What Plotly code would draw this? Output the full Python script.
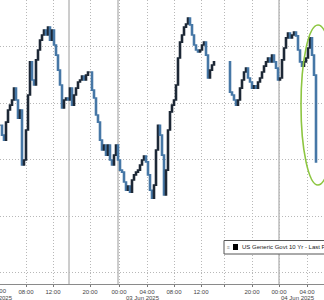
import plotly.graph_objects as go

# ---------------- data ----------------
# closes of 2-pixel bars, session 1 (02 Jun -> 03 Jun afternoon)
close_seg1 = [
    4.4323, 4.4288, 4.4270, 4.4334, 4.4377, 4.4394, 4.4412, 4.4454, 4.4412, 4.4348,
    4.4377, 4.4182, 4.4200, 4.4306, 4.4430, 4.4547, 4.4483, 4.4465, 4.4554, 4.4589,
    4.4624, 4.4642, 4.4660, 4.4642, 4.4670, 4.4624, 4.4660, 4.4607, 4.4571, 4.4518,
    4.4465, 4.4384, 4.4412, 4.4419, 4.4412, 4.4454, 4.4394, 4.4430, 4.4454, 4.4476,
    4.4483, 4.4497, 4.4483, 4.4500, 4.4511, 4.4511, 4.4447, 4.4419, 4.4359, 4.4334,
    4.4270, 4.4235, 4.4253, 4.4217, 4.4253, 4.4200, 4.4182, 4.4217, 4.4253, 4.4200,
    4.4164, 4.4157, 4.4122, 4.4093, 4.4108, 4.4086, 4.4129, 4.4147, 4.4157, 4.4164,
    4.4182, 4.4200, 4.4214, 4.4193, 4.4147, 4.4093, 4.4065, 4.4111, 4.4235, 4.4323,
    4.4288, 4.4217, 4.4076, 4.4164, 4.4306, 4.4370, 4.4394, 4.4412, 4.4465, 4.4561,
    4.4617, 4.4642, 4.4670, 4.4681, 4.4702, 4.4678, 4.4642, 4.4607, 4.4589, 4.4582,
    4.4589, 4.4607, 4.4617, 4.4571, 4.4490, 4.4518, 4.4536, 4.4547,
]
# session 2 (03 Jun evening -> 04 Jun morning)
close_seg2 = [
    4.4440, 4.4430, 4.4412, 4.4394, 4.4412, 4.4454, 4.4483, 4.4511, 4.4525, 4.4490,
    4.4476, 4.4454, 4.4462, 4.4454, 4.4476, 4.4490, 4.4511, 4.4532, 4.4547, 4.4561,
    4.4547, 4.4571, 4.4547, 4.4525, 4.4483, 4.4490, 4.4554, 4.4596, 4.4632, 4.4649,
    4.4632, 4.4642, 4.4653, 4.4639, 4.4589, 4.4547, 4.4532, 4.4547, 4.4561, 4.4596,
    4.4632, 4.4571, 4.4500, 4.4193,
]
bar_seg1 = list(range(0, 108))
bar_seg2 = list(range(115, 159))

tick_bars = [13, 26.5, 45, 59.5, 73.5, 87, 100.5, 112, 126, 139.5, 153.5]
tick_text = ["08:00", "12:00", "20:00", "00:00", "04:00", "08:00", "12:00", "",
             "20:00", "00:00", "04:00"]
session_breaks = [34.5, 59, 139.5]
series_name = "US Generic Govt 10 Yr - Last Price"

# ---------------- build ----------------
bars = bar_seg1 + bar_seg2
close = close_seg1 + close_seg2
open_ = [close[0]] + close[:-1]
high = [max(o, c) for o, c in zip(open_, close)]
low = [min(o, c) for o, c in zip(open_, close)]

W, H, B = 324, 300, 16
PH = H - B

fig = go.Figure()
fig.add_trace(go.Candlestick(
    x=bars, open=open_, high=high, low=low, close=close,
    increasing=dict(line=dict(color="#1d2836", width=1.6), fillcolor="#4f6780"),
    decreasing=dict(line=dict(color="#4677a6", width=1.6), fillcolor="#8fb4d4"),
    whiskerwidth=0, showlegend=False, hoverinfo="skip",
))

shapes = []
for b in session_breaks:
    shapes.append(dict(type="line", xref="x", yref="paper", x0=b, x1=b, y0=0, y1=1,
                       line=dict(color="#9a9a9a", width=1), layer="below"))
# highlight ellipse
shapes.append(dict(type="circle", xref="paper", yref="paper",
                   x0=301 / W, x1=335 / W, y0=1 - 185 / PH, y1=1 - 25 / PH,
                   line=dict(color="#8dc641", width=1.6)))
# legend box
shapes.append(dict(type="rect", xref="paper", yref="paper",
                   x0=224 / W, x1=1.08, y0=1 - 254 / PH, y1=1 - 240.5 / PH,
                   line=dict(color="#555555", width=1), fillcolor="white"))
shapes.append(dict(type="rect", xref="paper", yref="paper",
                   x0=233 / W, x1=238 / W, y0=1 - 250 / PH, y1=1 - 244 / PH,
                   line=dict(width=0), fillcolor="black"))

font = "Liberation Sans, Arial, sans-serif"
annotations = [
    dict(xref="paper", yref="paper", x=240 / W, y=1 - 247 / PH, xanchor="left",
         yanchor="middle", text=series_name, showarrow=False,
         font=dict(family=font, size=6, color="#222222")),
    dict(xref="paper", yref="paper", x=228.5 / W, y=1 - 247 / PH, xanchor="center",
         yanchor="middle", text="≡", showarrow=False,
         font=dict(family=font, size=5, color="#888888")),
    dict(xref="paper", yref="paper", x=-1 / W, y=0, yanchor="top", yshift=-2,
         xanchor="center", text="04:00", showarrow=False,
         font=dict(family=font, size=6, color="#444444")),
]
for txt, px in [("02 Jun 2025", -4.5), ("03 Jun 2025", 143), ("04 Jun 2025", 298)]:
    annotations.append(dict(xref="paper", yref="paper", x=px / W, y=0, yanchor="top",
                            yshift=-8.5, xanchor="center", text=txt, showarrow=False,
                            font=dict(family=font, size=6, color="#444444")))

fig.update_layout(
    width=W, height=H, margin=dict(l=0, r=0, t=0, b=B),
    paper_bgcolor="white", plot_bgcolor="white",
    shapes=shapes, annotations=annotations,
    xaxis=dict(range=[0, W / 2], tickvals=tick_bars, ticktext=tick_text,
               showgrid=True, gridcolor="#b8b8b8", griddash="1px,2px", gridwidth=1,
               zeroline=False, rangeslider=dict(visible=False),
               showline=True, linecolor="#8a8a8a", linewidth=1,
               ticks="outside", ticklen=2, tickcolor="#777777",
               tickfont=dict(family=font, size=6, color="#444444")),
    yaxis=dict(range=[4.3761, 4.4766], tick0=4.38, dtick=0.02, showticklabels=False,
               showgrid=True, gridcolor="#b8b8b8", griddash="1px,2px", gridwidth=1,
               zeroline=False, side="right"),
)

fig.write_html("out.html")
